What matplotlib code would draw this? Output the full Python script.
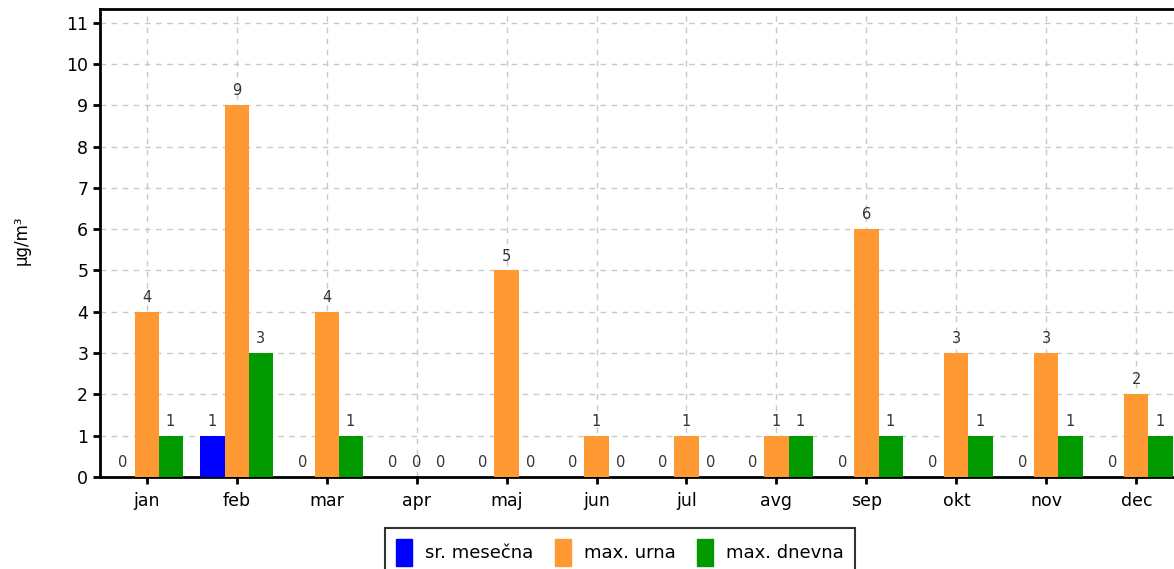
import numpy as np
import matplotlib.pyplot as plt
from matplotlib.patches import Patch

# monthly values, µg/m³
months = ["jan", "feb", "mar", "apr", "maj", "jun", "jul", "avg", "sep", "okt", "nov", "dec"]
sr_mesecna = [0, 1, 0, 0, 0, 0, 0, 0, 0, 0, 0, 0]
max_urna = [4, 9, 4, 0, 5, 1, 1, 1, 6, 3, 3, 2]
max_dnevna = [1, 3, 1, 0, 0, 0, 0, 1, 1, 1, 1, 1]

series_names = ["sr. mesečna", "max. urna", "max. dnevna"]
colors = ["#0000ff", "#ff9933", "#009900"]

W, H = 1174, 569
fig = plt.figure(figsize=(W / 100, H / 100), dpi=100)
ax = fig.add_axes([100 / W, (H - 477) / H, 1083 / W, (477 - 9) / H])

x = np.arange(len(months))
bw = 0.267
for i, (vals, c) in enumerate(zip([sr_mesecna, max_urna, max_dnevna], colors)):
    pos = x + (i - 1) * bw
    ax.bar(pos, vals, width=bw, color=c, zorder=3)
    for p, v in zip(pos, vals):
        ax.annotate(str(v), (p, v), xytext=(0, 5), textcoords="offset points",
                    ha="center", va="bottom", fontsize=10.5, color="#333333")

ax.set_xlim(-0.517, 11.517)
ax.set_ylim(0, 11.33)
ax.set_xticks(x)
ax.set_xticklabels(months, fontsize=12.5)
ax.set_yticks(range(0, 12))
ax.tick_params(axis="y", labelsize=12.5, length=5, width=2, direction="out")
ax.tick_params(axis="x", length=5, width=2, direction="out", pad=6)

ax.grid(True, color="#c8c8c8", linestyle=(0, (4, 4)), linewidth=1, zorder=0)
for s in ["left", "top", "bottom"]:
    ax.spines[s].set_linewidth(2)
ax.spines["right"].set_visible(False)

fig.text(22 / W, 1 - 240 / H, "µg/m³", rotation=90, ha="center", va="center", fontsize=12)

handles = [Patch(facecolor=c, edgecolor=c) for c in colors]
leg = fig.legend(handles, series_names, loc="upper center", ncol=3,
                 bbox_to_anchor=(620 / W, 1 - 528 / H), fontsize=13,
                 frameon=True, fancybox=False, edgecolor="black",
                 handlelength=0.9, handleheight=1.9, handletextpad=0.7,
                 columnspacing=1.2, borderpad=0.6, borderaxespad=0)
leg.get_frame().set_linewidth(1.5)

fig.savefig("out.png", dpi=100)
